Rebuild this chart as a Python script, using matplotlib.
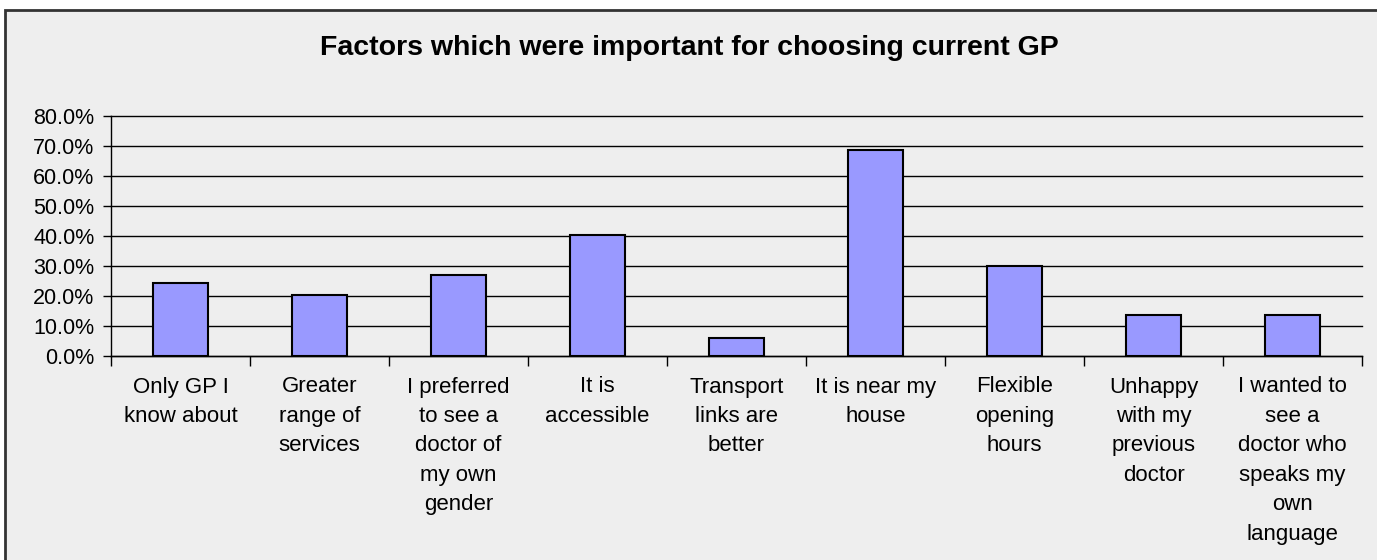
import matplotlib.pyplot as plt
from matplotlib.patches import Rectangle
from matplotlib.ticker import FuncFormatter
import numpy as np

plt.rcParams['font.family'] = ['Liberation Sans', 'DejaVu Sans']

categories = [
    "Only GP I\nknow about",
    "Greater\nrange of\nservices",
    "I preferred\nto see a\ndoctor of\nmy own\ngender",
    "It is\naccessible",
    "Transport\nlinks are\nbetter",
    "It is near my\nhouse",
    "Flexible\nopening\nhours",
    "Unhappy\nwith my\nprevious\ndoctor",
    "I wanted to\nsee a\ndoctor who\nspeaks my\nown\nlanguage",
]
percent = [24.3, 20.3, 27.0, 40.5, 5.8, 68.7, 29.9, 13.5, 13.5]
yticks = [0, 10, 20, 30, 40, 50, 60, 70, 80]
title = "Factors which were important for choosing current GP"

W, H = 1377, 560
fig = plt.figure(figsize=(W / 100, H / 100), dpi=100, facecolor='white')

# grey chart area with a dark frame on the left and top
fig.patches.append(Rectangle((5 / W, -0.1), 1.2, 1 - 10 / H + 0.1,
                             transform=fig.transFigure, facecolor='#eeeeee',
                             edgecolor='#333333', lw=2, zorder=-10))

ax = fig.add_axes([111 / W, (H - 355.5) / H, (1362 - 111) / W, (355.5 - 116.5) / H])
ax.set_facecolor('#eeeeee')

x = np.arange(len(categories))
ax.bar(x, percent, width=0.4, color='#9999ff', edgecolor='black', lw=1.5, zorder=3)

ax.set_xlim(-0.5, len(categories) - 0.5)
ax.set_ylim(0, 80)
ax.set_yticks(yticks)
ax.yaxis.set_major_formatter(FuncFormatter(lambda v, p: f"{v:.1f}%"))
ax.tick_params(axis='y', labelsize=15.5, length=6, width=1, color='black', pad=6)
ax.grid(axis='y', color='black', lw=1, zorder=1)
for gl in ax.get_ygridlines():
    gl.set_clip_on(False)

# ticks between categories, labels placed separately
ax.set_xticks(np.arange(len(categories) + 1) - 0.5)
ax.set_xticklabels([])
ax.tick_params(axis='x', length=7, width=1, color='black', direction='out')

for s in ['top', 'right']:
    ax.spines[s].set_visible(False)
for s in ['left', 'bottom']:
    ax.spines[s].set_color('black')
    ax.spines[s].set_linewidth(1)

for i, lab in enumerate(categories):
    ax.annotate(lab, xy=(i, 0), xycoords=('data', 'axes fraction'),
                xytext=(0, -21), textcoords='offset pixels',
                ha='center', va='top', fontsize=16, linespacing=1.53,
                annotation_clip=False)

fig.text(0.5 * (318 + 1060) / W, 1 - 48 / H, title, ha='center', va='center',
         fontsize=20.5, fontweight='bold')

fig.savefig('out.png', dpi=100, facecolor=fig.get_facecolor())
